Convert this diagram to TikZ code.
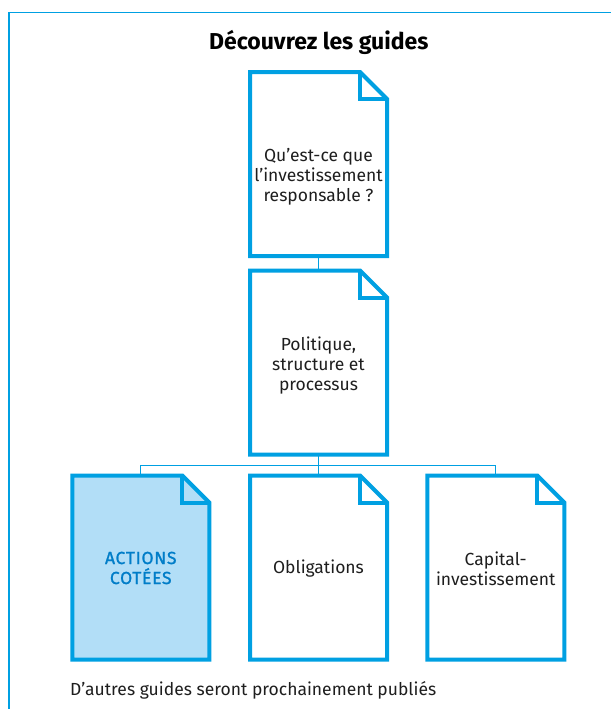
\documentclass[tikz,border=0pt]{standalone}
\usepackage{fontspec}
\setmainfont{Fira Sans}
\newfontfamily\capsfont[LetterSpace=4,FakeBold=1.2]{Fira Sans}
\definecolor{pri}{RGB}{0,160,226}
\definecolor{prifill}{RGB}{178,222,247}
\definecolor{pritext}{RGB}{0,125,200}
\definecolor{bodytext}{RGB}{30,30,30}
\newcommand\docoutline[2]{%
  \filldraw[docline,fill=#2] (#1.north west) -- ([xshift=-27pt]#1.north east) -- ([yshift=-27pt]#1.north east) -- (#1.south east) -- (#1.south west) -- cycle;
  \draw[docline] ([xshift=-27pt]#1.north east) |- ([yshift=-27pt]#1.north east);
}
\begin{document}
\begin{tikzpicture}[x=1pt,y=-1pt,
  docnode/.style={minimum width=137pt,minimum height=184pt,inner sep=0pt,outer sep=0pt},
  docline/.style={draw=pri,line width=4pt,line join=miter},
  link/.style={draw=pri,line width=1.2pt},
  frameline/.style={draw=pri,line width=1.6pt},
  doctext/.style={font=\fontsize{17.5}{20}\selectfont,align=center,text=bodytext,inner sep=0pt},
]
\useasboundingbox (0,0) rectangle (611,709);
\fill[white] (0,0) rectangle (611,709);
\draw[frameline] (8.8,709) -- (8.8,12.5) -- (611,12.5);

\node[font=\bfseries\fontsize{23}{26}\selectfont,anchor=base,text=black] (title) at (318.8,49) {Découvrez les guides};

\node[docnode] (d1) at (318.5,164) {};
\node[docnode] (d2) at (318.5,362.5) {};
\node[docnode] (d3) at (140.75,567.5) {};
\node[docnode] (d4) at (318.5,567.5) {};
\node[docnode] (d5) at (495.75,567.5) {};
\coordinate (bus) at (318.5,465.3);

\draw[link] (d1.south) -- (d2.north);
\draw[link] (d2.south) -- (d4.north);
\draw[link] (d3.north) |- (bus) -| (d5.north);

\docoutline{d1}{white}
\docoutline{d2}{white}
\docoutline{d3}{prifill}
\docoutline{d4}{white}
\docoutline{d5}{white}

\node[doctext] (t1) at (318.5,177) {Qu’est-ce que\\l’investissement\\responsable ?};
\node[doctext] (t2) at (318.5,366) {Politique,\\structure et\\processus};
\node[doctext,text=pritext,font=\capsfont\fontsize{17.5}{20}\selectfont] (t3) at (140.75,568) {ACTIONS\\COTÉES};
\node[doctext] (t4) at (318.5,569) {Obligations};
\node[doctext] (t5) at (495.75,569) {Capital-\\investissement};

\node[font=\fontsize{17.5}{20}\selectfont,anchor=base west,text=bodytext,inner sep=0pt] (foot) at (70,695) {D’autres guides seront prochainement publiés};
\end{tikzpicture}
\end{document}
